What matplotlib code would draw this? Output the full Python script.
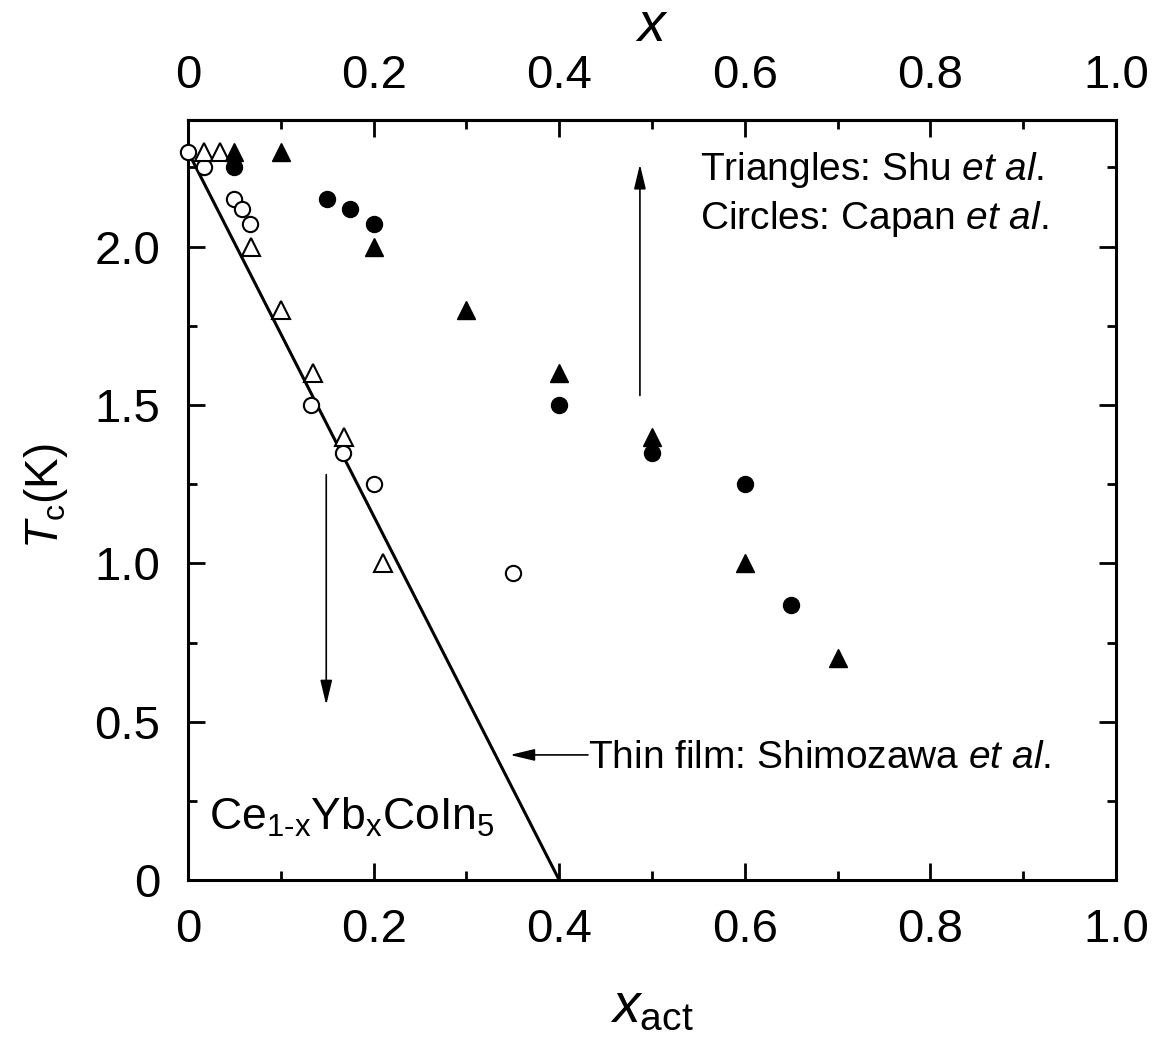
import matplotlib
matplotlib.use('Agg')

import matplotlib.pyplot as plt
from matplotlib.ticker import MultipleLocator, FuncFormatter

plt.rcParams['font.family'] = ['Liberation Sans', 'DejaVu Sans']
plt.rcParams['mathtext.fontset'] = 'custom'
plt.rcParams['mathtext.rm'] = 'Liberation Sans'
plt.rcParams['mathtext.it'] = 'Liberation Sans:italic'

# -------------------
# Tc of Ce(1-x)Yb(x)CoIn5 single crystals vs. Yb content
# -------------------
# Shu et al. (open: vs. x_act, filled: vs. nominal x)
shu_open_x = [0.017, 0.035, 0.068, 0.100, 0.135, 0.168, 0.210]
shu_open_tc = [2.30, 2.30, 2.00, 1.80, 1.60, 1.40, 1.00]
shu_fill_x = [0.05, 0.10, 0.20, 0.30, 0.40, 0.50, 0.60, 0.70]
shu_fill_tc = [2.30, 2.30, 2.00, 1.80, 1.60, 1.40, 1.00, 0.70]

# Capan et al. (open: vs. x_act, filled: vs. nominal x)
capan_open_x = [0.0, 0.017, 0.050, 0.058, 0.067, 0.133, 0.167, 0.200, 0.350]
capan_open_tc = [2.30, 2.25, 2.15, 2.12, 2.07, 1.50, 1.35, 1.25, 0.97]
capan_fill_x = [0.05, 0.15, 0.175, 0.20, 0.40, 0.50, 0.60, 0.65]
capan_fill_tc = [2.25, 2.15, 2.12, 2.07, 1.50, 1.35, 1.25, 0.87]

# Thin film (Shimozawa et al.): linear suppression
film_x = [0.0, 0.4]
film_tc = [2.3, 0.0]

fig = plt.figure(figsize=(11.56, 10.38), dpi=100)
ax = fig.add_axes([0.1626, 0.1522, 0.8028, 0.7322])

ax.plot(film_x, film_tc, '-', color='black', lw=2.2, zorder=2)

ax.plot(capan_open_x, capan_open_tc, 'o', ms=11, mfc='white', mec='black', mew=1.5, clip_on=False, zorder=3)
ax.plot(shu_open_x, shu_open_tc, '^', ms=12.5, mfc='white', mec='black', mew=1.5, clip_on=False, zorder=3)
ax.plot(capan_fill_x, capan_fill_tc, 'o', ms=11.5, color='black', zorder=4)
ax.plot(shu_fill_x, shu_fill_tc, '^', ms=12.5, color='black', zorder=4)

ax.set_xlim(0, 1.0)
ax.set_ylim(0, 2.4)

fmt = FuncFormatter(lambda v, pos: '0' if abs(v) < 1e-9 else f'{v:.1f}')

ax.xaxis.set_major_locator(MultipleLocator(0.2))
ax.xaxis.set_minor_locator(MultipleLocator(0.1))
ax.yaxis.set_major_locator(MultipleLocator(0.5))
ax.yaxis.set_minor_locator(MultipleLocator(0.25))
ax.xaxis.set_major_formatter(fmt)
ax.yaxis.set_major_formatter(fmt)

for sp in ax.spines.values():
    sp.set_linewidth(2.2)

ax.tick_params(which='both', direction='in', width=2.0, labelsize=34,
               top=False, right=True)
ax.tick_params(which='major', length=12, pad=20)
ax.tick_params(which='minor', length=6.5)

# nominal x on the top axis
secax = ax.secondary_xaxis('top')
secax.xaxis.set_major_locator(MultipleLocator(0.2))
secax.xaxis.set_minor_locator(MultipleLocator(0.1))
secax.xaxis.set_major_formatter(fmt)
secax.tick_params(which='both', direction='in', width=2.0, labelsize=34)
secax.tick_params(which='major', length=12, pad=16)
secax.tick_params(which='minor', length=6.5)
secax.spines['top'].set_linewidth(2.2)
secax.set_xlabel(r'$x$', fontsize=40, labelpad=9)

ax.set_xlabel(r'$x_{\rm act}$', fontsize=40)
ax.xaxis.set_label_coords(0.5, -0.134)
ax.set_ylabel(r'$T_{\rm c}$(K)', fontsize=33)
ax.yaxis.set_label_coords(-0.127, 0.505)

# labels
ax.text(0.552, 2.212, r'Triangles: Shu $\it{et\ al.}$', fontsize=28, va='baseline')
ax.text(0.552, 2.057, r'Circles: Capan $\it{et\ al}$.', fontsize=28, va='baseline')
ax.text(0.431, 0.354, r'Thin film: Shimozawa $\it{et\ al.}$', fontsize=28, va='baseline')
ax.text(0.0226, 0.158, r'Ce$_{\text{1-x}}$Yb$_{\text{x}}$CoIn$_{\text{5}}$', fontsize=32, va='baseline')

arrow = dict(arrowstyle='-|>,head_length=0.5,head_width=0.12', lw=1.2,
             color='black', shrinkA=0, shrinkB=0, mutation_scale=30)
ax.annotate('', xy=(0.149, 0.553), xytext=(0.149, 1.28), arrowprops=arrow)
ax.annotate('', xy=(0.487, 2.26), xytext=(0.487, 1.53), arrowprops=arrow)
ax.annotate('', xy=(0.347, 0.395), xytext=(0.431, 0.395), arrowprops=arrow)

fig.savefig('out.png', dpi=100)
